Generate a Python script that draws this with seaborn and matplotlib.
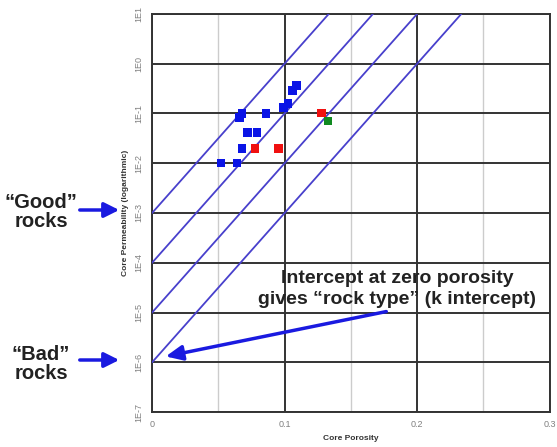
import numpy as np
import pandas as pd
import matplotlib
matplotlib.use("Agg")
import matplotlib.pyplot as plt
import seaborn as sns

# ---- data ----
blue_phi = [0.052, 0.064, 0.068, 0.072, 0.079, 0.066, 0.068, 0.086, 0.099, 0.1025, 0.106, 0.109]
blue_k = [1.0e-2, 1.0e-2, 1.95e-2, 4.1e-2, 4.1e-2, 8.3e-2, 1.0e-1, 1.0e-1, 1.32e-1, 1.58e-1, 2.9e-1, 3.6e-1]
red_phi = [0.0775, 0.0955, 0.128]
red_k = [1.95e-2, 1.95e-2, 1.02e-1]
green_phi = [0.1326]
green_k = [7.1e-2]

line_intercepts = [1e-3, 1e-4, 1e-5, 1e-6]   # k at zero porosity
line_slope = 30.0                            # decades per unit porosity

x_ticks = [0, 0.1, 0.2, 0.3]
x_ticklabels = ["0", "0.1", "0.2", "0.3"]
y_ticks = [1e1, 1e0, 1e-1, 1e-2, 1e-3, 1e-4, 1e-5, 1e-6, 1e-7]
y_ticklabels = ["1E1", "1E0", "1E-1", "1E-2", "1E-3", "1E-4", "1E-5", "1E-6", "1E-7"]

sns.set_style("white")
plt.rcParams['font.family'] = ['Liberation Sans', 'DejaVu Sans']

fig = plt.figure(figsize=(5.57, 4.47), dpi=100)
ax = fig.add_axes([0.273, 0.078, 0.714, 0.891])

# trend lines
rows = []
for i, k0 in enumerate(line_intercepts):
    phi_end = (1.0 - np.log10(k0)) / line_slope
    for p in (0.0, phi_end):
        rows.append({"phi": p, "k": k0 * 10 ** (line_slope * p), "line": i})
lines_df = pd.DataFrame(rows)
sns.lineplot(data=lines_df, x="phi", y="k", units="line", estimator=None,
             color="#4840cc", lw=1.3, ax=ax, legend=False, zorder=3)

pts = pd.DataFrame({
    "phi": blue_phi + red_phi + green_phi,
    "k": blue_k + red_k + green_k,
    "grp": ["b"] * len(blue_phi) + ["r"] * len(red_phi) + ["g"] * len(green_phi),
})
sns.scatterplot(data=pts, x="phi", y="k", hue="grp",
                palette={"b": "#0a14e6", "r": "#f01010", "g": "#108a20"},
                marker="s", s=38, edgecolor="none", legend=False, ax=ax, zorder=4)

ax.set_yscale("log")
ax.set_xlim(0, 0.3)
ax.set_ylim(1e-7, 1e1)
ax.set_xticks(x_ticks)
ax.set_xticklabels(x_ticklabels)
ax.set_yticks(y_ticks)
ax.set_yticklabels(y_ticklabels, rotation=90, va="center")
ax.yaxis.set_minor_locator(matplotlib.ticker.NullLocator())
ax.set_xticks([0.05, 0.15, 0.25], minor=True)
ax.tick_params(axis="both", which="major", labelsize=6.5, labelcolor="#808080",
               length=3, color="#444444", pad=3)
ax.tick_params(axis="x", which="minor", length=0)
ax.grid(True, which="major", color="#333333", lw=1.4, zorder=1)
ax.grid(True, which="minor", axis="x", color="#cccccc", lw=1.0, zorder=1)
ax.set_axisbelow(True)
for s in ax.spines.values():
    s.set_color("#333333")
    s.set_linewidth(1.4)

ax.set_xlabel("Core Porosity", fontsize=6, fontweight="bold", color="#333333", labelpad=4)
ax.set_ylabel("Core Permeability (logarithmic)", fontsize=6, fontweight="bold",
              color="#333333", labelpad=4)

W, H = 557, 447
def fp(x, y):
    return (x / W, 1 - y / H)

arrow_blue = "#1a1ae0"
fig.text(*fp(41, 212), "\u201cGood\u201d\nrocks", ha="center", va="center",
         fontsize=14.5, fontweight="bold", color="#222222", linespacing=1.0)
fig.text(*fp(41, 364), "\u201cBad\u201d\nrocks", ha="center", va="center",
         fontsize=14.5, fontweight="bold", color="#222222", linespacing=1.0)
for yy in (210, 360):
    ax.annotate("", xy=fp(122, yy), xytext=fp(77, yy), xycoords="figure fraction",
                textcoords="figure fraction",
                arrowprops=dict(arrowstyle="-|>,head_length=0.9,head_width=0.45",
                                color=arrow_blue, lw=2.5))

fig.text(*fp(397, 289), "Intercept at zero porosity\ngives \u201crock type\u201d (k intercept)",
         ha="center", va="center", fontsize=14, fontweight="bold", color="#222222",
         linespacing=1.3)
ax.annotate("", xy=fp(163, 357), xytext=fp(389, 311), xycoords="figure fraction",
            textcoords="figure fraction",
            arrowprops=dict(arrowstyle="-|>,head_length=1.0,head_width=0.45",
                            color=arrow_blue, lw=2.5))

fig.savefig("out.png", dpi=100)
